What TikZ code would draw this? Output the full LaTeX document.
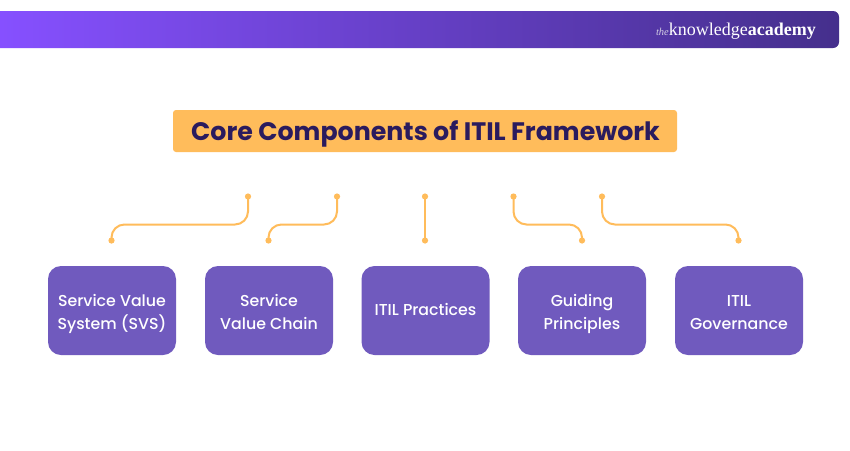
\documentclass[tikz,border=0pt]{standalone}
\usepackage{fontspec}
\setmainfont{Poppins}
\newfontfamily\pmed{Poppins Medium}
\newfontfamily\logofont{Liberation Serif}
\newcommand\lstrut{\rule[-6.75pt]{0pt}{22.5pt}}
\begin{document}
\begin{tikzpicture}[x=1pt,y=-1pt,
  comp/.style={draw=none,fill=compfill,rounded corners=13pt,minimum width=128pt,minimum height=89pt,inner sep=0pt},
  comptext/.style={inner sep=0pt,align=center,text=white,font=\pmed\fontsize{15.8}{22.5}\selectfont},
  dot/.style={circle,fill=linkc,draw=none,minimum size=6.2pt,inner sep=0pt},
  link/.style={draw=linkc,line width=2pt,rounded corners=13pt}]
\definecolor{compfill}{HTML}{705ABE}
\definecolor{linkc}{HTML}{FFBC5B}
\definecolor{titlefill}{HTML}{FFBC5B}
\definecolor{titletext}{HTML}{2A1B5E}
\definecolor{barl}{HTML}{8650FF}
\definecolor{barr}{HTML}{452F8C}
\useasboundingbox (0,0) rectangle (850,450);
\fill[white] (0,0) rectangle (850,450);
\shade[left color=barl,right color=barr] (0,11) -- (833,11) arc[start angle=-90,end angle=0,radius=6] -- (839,42) arc[start angle=0,end angle=90,radius=6] -- (0,48) -- cycle;
\node[anchor=base east,inner sep=0pt,text=white,font=\logofont\fontsize{18}{20}\selectfont] (logo) at (816,35) {{\fontsize{10.5}{12}\selectfont\itshape\color{white!75!barr}the}knowledge\textbf{academy}};
\node[fill=titlefill,rounded corners=3pt,minimum width=504pt,minimum height=42pt,inner sep=0pt] (title) at (425,131) {};
\node[anchor=base,inner sep=0pt,text=titletext,font=\bfseries\fontsize{25.3}{30}\selectfont] (titletxt) at (425.5,140) {Core Components of ITIL Framework};
\foreach \n/\x/\t/\s in {1/112/{\lstrut Service Value\\\lstrut System (SVS)}/3,2/269/{\lstrut Service\\\lstrut Value Chain}/3,3/425.5/{\lstrut ITIL Practices}/0,4/582/{\lstrut Guiding\\\lstrut Principles}/3,5/739/{\lstrut ITIL\\\lstrut Governance}/3}{
  \node[comp] (c\n) at (\x,310.5) {};
  \node[comptext,yshift=-\s pt] (l\n) at (c\n) {\t};
}
\foreach \n/\x in {1/248,2/337,3/425,4/513.5,5/602}{\node[dot] (t\n) at (\x,196.5) {};}
\foreach \n/\x in {1/111.5,2/268.5,3/425,4/582,5/738.5}{\node[dot] (b\n) at (\x,240.5) {};}
\coordinate (m1) at (180,224.5);
\coordinate (m2) at (302,224.5);
\coordinate (m4) at (548,224.5);
\coordinate (m5) at (670,224.5);
\draw[link] (t1.center) |- (m1) -| (b1.center);
\draw[link] (t2.center) |- (m2) -| (b2.center);
\draw[link] (t3.center) -- (b3.center);
\draw[link] (t4.center) |- (m4) -| (b4.center);
\draw[link] (t5.center) |- (m5) -| (b5.center);
\end{tikzpicture}
\end{document}
